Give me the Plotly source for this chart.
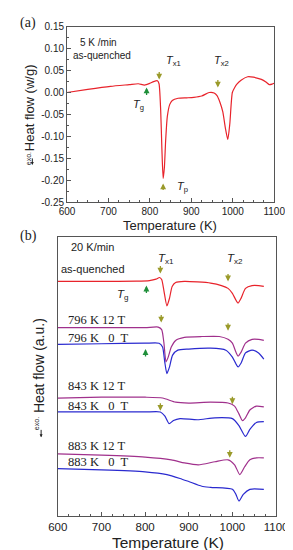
import plotly.graph_objects as go

# ---------------- Panel (a): 5 K/min as-quenched ----------------
temp_a = [600, 650, 705, 750, 772, 787, 800, 809, 818, 822, 826, 829, 832, 835, 838, 842, 848, 854,
          868, 890, 906, 925, 943, 955, 962, 969, 976, 982, 988, 993, 999, 1005, 1010, 1020, 1036,
          1050, 1069, 1080, 1088, 1095, 1100]
heat_a = [0.0, 0.007, 0.014, 0.018, 0.020, 0.017, 0.021, 0.025, 0.027, 0.020, -0.04, -0.13, -0.196, -0.17,
          -0.11, -0.055, -0.027, -0.018, -0.013, -0.012, -0.011, -0.008, 0.0, -0.001, -0.007, -0.022,
          -0.044, -0.08, -0.107, -0.07, 0.0, 0.012, 0.019, 0.028, 0.036, 0.035, 0.030, 0.024, 0.018,
          0.019, 0.021]

# ---------------- Panel (b): 20 K/min, annealed samples ----------------
temp_q = [600, 700, 780, 810, 825, 833, 838, 843, 850, 856, 862, 870, 890, 920, 950, 975, 990, 1000,
          1008, 1013, 1020, 1030, 1045, 1060, 1072]
heat_q = [8.42, 8.42, 8.43, 8.45, 8.50, 8.56, 8.49, 8.10, 7.54, 7.82, 8.24, 8.38, 8.42, 8.40, 8.36,
          8.27, 8.17, 7.99, 7.75, 7.64, 7.82, 8.17, 8.27, 8.27, 8.24]

temp_796_12 = [600, 700, 800, 830, 838, 843, 848, 853, 860, 870, 890, 930, 970, 990, 1000, 1008,
               1013, 1020, 1030, 1045, 1060, 1072]
heat_796_12 = [6.76, 6.76, 6.76, 6.78, 6.69, 6.23, 5.53, 5.70, 6.06, 6.30, 6.41, 6.44, 6.44, 6.34,
               6.20, 5.88, 5.74, 5.88, 6.20, 6.34, 6.34, 6.30]

temp_796_0 = [600, 700, 800, 832, 840, 845, 850, 856, 863, 875, 900, 950, 985, 1000, 1008, 1013,
              1020, 1030, 1045, 1060, 1072]
heat_796_0 = [6.16, 6.18, 6.20, 6.20, 6.06, 5.53, 5.11, 5.35, 5.77, 5.95, 5.99, 6.02, 5.95, 5.70,
              5.46, 5.35, 5.49, 5.85, 5.95, 5.85, 5.63]

temp_843_12 = [600, 700, 800, 840, 870, 900, 950, 990, 1005, 1015, 1023, 1030, 1040, 1055, 1072]
heat_843_12 = [4.23, 4.26, 4.26, 4.23, 4.08, 4.05, 4.08, 4.05, 3.94, 3.66, 3.42, 3.52, 3.80, 3.94, 3.91]

temp_843_0 = [600, 700, 800, 835, 845, 855, 865, 880, 920, 960, 1000, 1015, 1030, 1040, 1055, 1072]
heat_843_0 = [3.73, 3.73, 3.73, 3.73, 3.59, 3.31, 3.42, 3.49, 3.45, 3.52, 3.49, 3.24, 2.85, 3.10,
              3.35, 3.38]

temp_883_12 = [600, 700, 800, 860, 890, 922, 960, 990, 1005, 1017, 1028, 1040, 1055, 1072]
heat_883_12 = [2.22, 2.18, 2.11, 2.01, 1.90, 1.83, 1.94, 2.01, 1.83, 1.48, 1.76, 2.01, 2.08, 2.08]

temp_883_0 = [600, 700, 800, 850, 880, 900, 930, 950, 1000, 1008, 1015, 1025, 1040, 1072]
heat_883_0 = [1.69, 1.65, 1.58, 1.48, 1.34, 1.23, 1.06, 1.02, 0.95, 0.77, 0.53, 0.77, 0.95, 0.95]

x_ticks = [600, 700, 800, 900, 1000, 1100]
y_ticks_a = [0.15, 0.10, 0.05, 0.00, -0.05, -0.10, -0.15, -0.20, -0.25]
y_ticklabels_a = ["0.15", "0.10", "0.05", "0.00", "-0.05", "-0.10", "-0.15", "-0.20", "-0.25"]

RED = "#E8232B"
PURPLE = "#A0308C"
BLUE = "#2A2ACF"
OLIVE = "#9A9A2A"
GREEN = "#1F8F3A"
AXC = "#555555"

W, H = 293, 550


def px(x):
    return x / W


def py(y):
    return 1 - y / H


fig = go.Figure()
fig.add_trace(go.Scatter(x=temp_a, y=heat_a, mode="lines", line=dict(color=RED, width=1.2, shape="spline", smoothing=0.6),
                         xaxis="x", yaxis="y", showlegend=False))
for t, h, c in [(temp_q, heat_q, RED), (temp_796_12, heat_796_12, PURPLE), (temp_796_0, heat_796_0, BLUE),
                (temp_843_12, heat_843_12, PURPLE), (temp_843_0, heat_843_0, BLUE),
                (temp_883_12, heat_883_12, PURPLE), (temp_883_0, heat_883_0, BLUE)]:
    fig.add_trace(go.Scatter(x=t, y=h, mode="lines", line=dict(color=c, width=1.2, shape="spline", smoothing=0.6),
                             xaxis="x2", yaxis="y2", showlegend=False))

tickfont = dict(family="Liberation Sans, Arial", size=10, color="#222")
common = dict(showline=True, linecolor=AXC, linewidth=1, mirror=True, showgrid=False, zeroline=False,
              ticks="inside", ticklen=4, tickcolor=AXC, tickfont=tickfont)

fig.update_layout(
    width=W, height=H, margin=dict(l=0, r=0, t=0, b=0),
    paper_bgcolor="white", plot_bgcolor="white",
    xaxis=dict(domain=[px(53), px(277)], range=[600, 1100], tickvals=x_ticks, anchor="y",
               minor=dict(dtick=25, ticks="inside", ticklen=2, tickcolor=AXC), **common),
    yaxis=dict(domain=[py(192), py(13)], range=[-0.25, 0.15], tickvals=y_ticks_a, ticktext=y_ticklabels_a,
               anchor="x", minor=dict(dtick=0.025, ticks="inside", ticklen=2, tickcolor=AXC), **common),
    xaxis2=dict(domain=[px(43), px(279)], range=[600, 1100], tickvals=x_ticks, anchor="y2",
                minor=dict(dtick=25, ticks="inside", ticklen=2, tickcolor=AXC),
                **{**common, "tickfont": dict(family="Liberation Sans, Arial", size=11.5, color="#222")}),
    yaxis2=dict(domain=[py(512), py(228)], range=[0, 10], anchor="x2", showticklabels=False,
                showline=True, linecolor=AXC, linewidth=1, mirror=True, showgrid=False, zeroline=False, ticks=""),
)

ann = []
sans = "Liberation Sans, Arial"
serif = "Liberation Serif, Times New Roman"


def text(x, y, s, size, xref="x", yref="y", family=sans, anchor="center", angle=0, color="#222"):
    ann.append(dict(x=x, y=y, xref=xref, yref=yref, text=s, showarrow=False, xanchor=anchor, yanchor="middle",
                    font=dict(family=family, size=size, color=color), textangle=angle))


def arrow(x, y, xref, yref, color, up=False, length=9):
    ann.append(dict(x=x, y=y, xref=xref, yref=yref, text="", showarrow=True, ax=0, ay=(length if up else -length),
                    arrowhead=2, arrowsize=0.9, arrowwidth=1.3, arrowcolor=color))


# panel labels
text(px(11), py(9), "(a)", 14, "paper", "paper", serif)
text(px(11), py(227), "(b)", 14, "paper", "paper", serif)

# panel (a) texts
text(676, 0.114, "5 K /min", 10, "x", "y")
text(685, 0.085, "as-quenched", 10, "x", "y")
text(858, 0.072, "<i>T</i><sub>x1</sub>", 11, "x", "y")
text(974, 0.071, "<i>T</i><sub>x2</sub>", 11, "x", "y")
text(772, -0.028, "<i>T</i><sub>g</sub>", 11, "x", "y")
text(879, -0.215, "<i>T</i><sub>p</sub>", 11, "x", "y")
arrow(822.5, 0.0295, "x", "y", OLIVE)
arrow(964, 0.0115, "x", "y", OLIVE)
arrow(792, 0.0115, "x", "y", GREEN, up=True)
arrow(832, -0.2075, "x", "y", OLIVE, up=True, length=8)

# panel (a) axis titles
text(px(12), py(96), "Heat flow (w/g)", 13, "paper", "paper", angle=-90)
text(px(11), py(148), "exo.", 7, "paper", "paper", angle=-90)
ann.append(dict(x=px(15.5), y=py(154), xref="paper", yref="paper", text="", showarrow=True, ax=0, ay=-8,
                arrowhead=2, arrowsize=0.6, arrowwidth=1, arrowcolor="#222"))
text(px(164), py(216), "Temperature (K)", 13, "paper", "paper")

# panel (b) texts
text(680, 9.65, "20 K/min", 11, "x2", "y2")
text(680, 8.87, "as-quenched", 11, "x2", "y2")
text(849, 9.23, "<i>T</i><sub>x1</sub>", 11.5, "x2", "y2")
text(1006, 9.23, "<i>T</i><sub>x2</sub>", 11.5, "x2", "y2")
text(750, 7.92, "<i>T</i><sub>g</sub>", 11.5, "x2", "y2")
arrow(835, 8.70, "x2", "y2", OLIVE)
arrow(990, 8.42, "x2", "y2", OLIVE)
arrow(803, 8.27, "x2", "y2", GREEN, up=True)
arrow(837, 6.94, "x2", "y2", OLIVE)
arrow(990, 6.65, "x2", "y2", OLIVE)
arrow(801, 5.99, "x2", "y2", GREEN, up=True)
arrow(835, 3.77, "x2", "y2", OLIVE)
arrow(1000, 4.01, "x2", "y2", OLIVE)
arrow(994, 2.08, "x2", "y2", OLIVE)

labels_b = [(7.04, "796 K 12 T"), (6.37, "796 K&nbsp;&nbsp; 0&nbsp; T"), (4.65, "843 K 12 T"),
            (3.94, "843 K&nbsp;&nbsp; 0&nbsp; T"), (2.50, "883 K 12 T"), (1.93, "883 K&nbsp;&nbsp; 0&nbsp; T")]
for yv, s in labels_b:
    text(619, yv, s, 12.5, "x2", "y2", serif, anchor="left")

# panel (b) axis titles
text(px(23), py(359), "Heat flow (a.u.)", 14, "paper", "paper", angle=-90)
text(px(20), py(418), "exo.", 7, "paper", "paper", angle=-90)
ann.append(dict(x=px(25), y=py(432), xref="paper", yref="paper", text="", showarrow=True, ax=0, ay=-9,
                arrowhead=2, arrowsize=0.6, arrowwidth=1, arrowcolor="#222"))
text(px(162), py(539), "Temperature (K)", 15.5, "paper", "paper")

fig.update_layout(annotations=ann)
fig.write_html("out.html")
